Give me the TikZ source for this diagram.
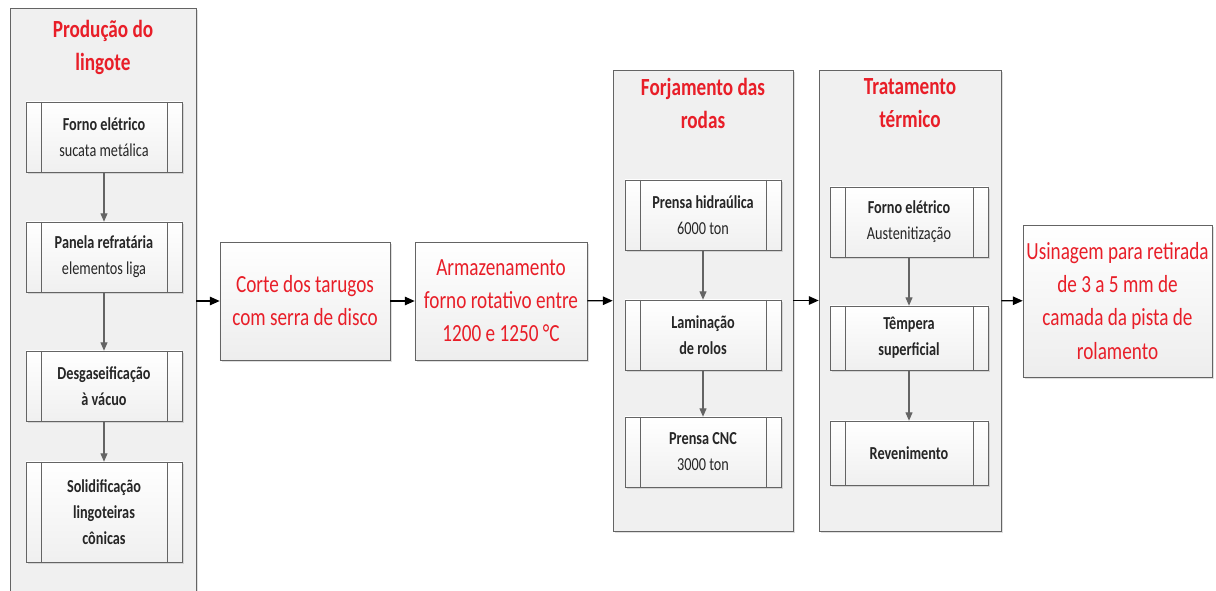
\documentclass[tikz,border=0pt]{standalone}
\usepackage{fontspec}
\setmainfont[FakeStretch=0.78]{Carlito}
\usetikzlibrary{arrows.meta,shadows}
\definecolor{vermelho}{RGB}{232,30,40}
\definecolor{borda}{RGB}{100,100,100}
\definecolor{fundo}{RGB}{240,240,240}
\begin{document}
\begin{tikzpicture}[x=0.025cm, y=-0.025cm,
    sombra/.style = {drop shadow={shadow xshift=1.2pt, shadow yshift=-1.2pt, opacity=0.25}},
    raia/.style = {draw=borda, fill=fundo, inner sep=0pt, sombra},
    titulo/.style = {text=vermelho, font=\bfseries\fontsize{17.5}{23.5}\selectfont, align=center, inner sep=0pt},
    etapa/.style = {draw=borda, top color=white, bottom color=gray!14, minimum width=4.25cm, minimum height=2.95cm,
        text=vermelho, font=\fontsize{17.5}{23.5}\selectfont, align=center, inner sep=0pt, sombra},
    proc/.style = {draw=borda, top color=white, bottom color=gray!12, minimum width=3.9cm, minimum height=1.75cm,
        text=black!85, font=\fontsize{13}{18.5}\selectfont, align=center, inner sep=0pt, sombra,
        path picture={
            \draw[borda] ([xshift=0.375cm]path picture bounding box.north west) -- ([xshift=0.375cm]path picture bounding box.south west);
            \draw[borda] ([xshift=-0.375cm]path picture bounding box.north east) -- ([xshift=-0.375cm]path picture bounding box.south east);}},
    seta/.style = {line width=1pt, -{Triangle[length=7pt, width=6pt]}},
    passo/.style = {draw=borda, line width=0.8pt, -{Triangle[length=6pt, width=5pt]}}]
    \useasboundingbox (0,0) rectangle (1216,591);

    \node[raia, minimum width=4.65cm, minimum height=15.3cm] (lingote) at (103,314) {};
    \node[raia, minimum width=4.5cm, minimum height=11.525cm] (forjamento) at (703,300.5) {};
    \node[raia, minimum width=4.55cm, minimum height=11.525cm] (tratamento) at (910,300.5) {};

    \node[titulo] (tit1) at (103,47) {Produção do\\lingote};
    \node[titulo] (tit2) at (703,103) {Forjamento das\\rodas};
    \node[titulo] (tit3) at (910,103) {Tratamento\\térmico};

    \node[proc] (fornoA) at (104,137) {{\bfseries Forno elétrico}\\sucata metálica};
    \node[proc] (panela) at (104,257) {{\bfseries Panela refratária}\\elementos liga};
    \node[proc] (desgas) at (104,386) {\bfseries Desgaseificação\\\bfseries à vácuo};
    \node[proc, minimum height=2.5cm] (solid) at (104,512) {\bfseries Solidificação\\\bfseries lingoteiras\\\bfseries cônicas};

    \node[etapa] (corte) at (305,301) {Corte dos tarugos\\com serra de disco};
    \node[etapa, minimum width=4.3cm] (armaz) at (501,301) {Armazenamento\\forno rotativo entre\\1200 e 1250 °C};

    \node[proc] (prensaH) at (703,215) {{\bfseries Prensa hidraúlica}\\6000 ton};
    \node[proc] (lamin) at (703,335) {\bfseries Laminação\\\bfseries de rolos};
    \node[proc] (prensaC) at (703,452) {{\bfseries Prensa CNC}\\3000 ton};

    \node[proc, minimum width=3.95cm] (fornoB) at (909,222) {{\bfseries Forno elétrico}\\Austenitização};
    \node[proc, minimum width=3.95cm, minimum height=1.6cm] (tempera) at (909,338) {\bfseries Têmpera\\\bfseries superficial};
    \node[proc, minimum width=3.95cm, minimum height=1.6cm] (revenim) at (909,453) {\bfseries Revenimento};

    \node[etapa, minimum width=4.725cm, minimum height=3.8cm] (usinagem) at (1117.5,301) {Usinagem para retirada\\de 3 a 5 mm de\\camada da pista de\\rolamento};

    \draw[passo] (fornoA) -- (panela);
    \draw[passo] (panela) -- (desgas);
    \draw[passo] (desgas) -- (solid);
    \draw[passo] (prensaH) -- (lamin);
    \draw[passo] (lamin) -- (prensaC);
    \draw[passo] (fornoB) -- (tempera);
    \draw[passo] (tempera) -- (revenim);

    \draw[seta] (lingote.east |- corte) -- (corte);
    \draw[seta] (corte) -- (armaz);
    \draw[seta] (armaz) -- (forjamento);
    \draw[seta] (forjamento) -- (tratamento);
    \draw[seta] (tratamento) -- (usinagem);
\end{tikzpicture}
\end{document}
